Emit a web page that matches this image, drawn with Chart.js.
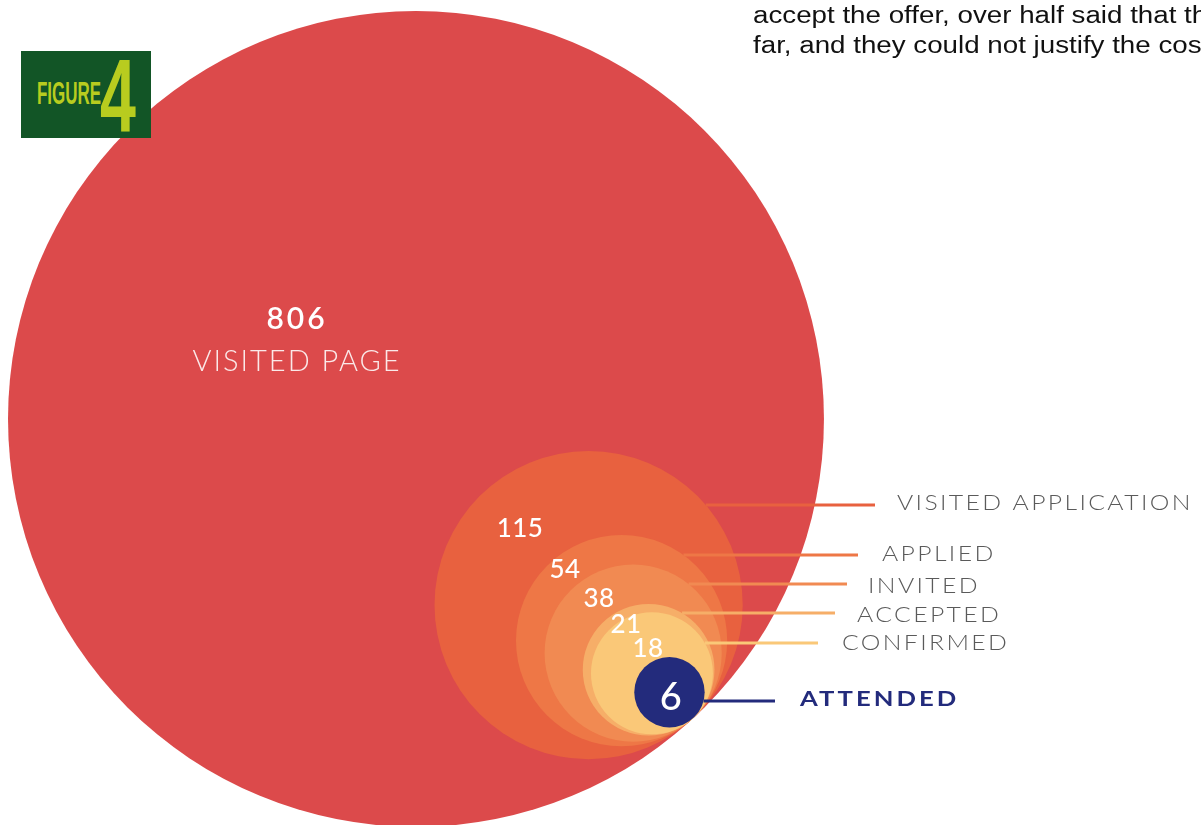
<!DOCTYPE html>
<html>
<head>
<meta charset="utf-8">
<script src="https://cdn.jsdelivr.net/npm/chart.js@4.4.1/dist/chart.umd.min.js"></script>
<style>
  html, body { margin: 0; padding: 0; background: #fff; overflow: hidden; }
  #wrap { position: relative; width: 1201px; height: 825px; overflow: hidden; }
  #bubbles { position: absolute; left: 0; top: 0; }
  .body-text {
    position: absolute; left: 753px; top: 0; white-space: nowrap;
    font-family: "Liberation Sans", Arial, sans-serif; font-size: 23.5px;
    line-height: 30px; color: #111; transform: scaleX(1.18); transform-origin: 0 0;
  }
  .badge {
    position: absolute; left: 21px; top: 51px; width: 130px; height: 87px;
    background: #125526; overflow: hidden;
  }
  .badge span {
    position: absolute; font-family: "Liberation Sans", Arial, sans-serif;
    font-weight: bold; color: #b8cc1f; transform-origin: 0 0; line-height: 1;
  }
  .badge .word { left: 16px; top: 26px; font-size: 32px; transform: scaleX(0.53); }
  .badge .num { left: 79px; top: -7px; font-size: 104px; transform: scaleX(0.62); }
</style>
</head>
<body>
<div id="wrap">
  <canvas id="bubbles" width="1201" height="825"></canvas>
  <div class="body-text">accept the offer, over half said that they<br>far, and they could not justify the cost</div>
  <div class="badge"><span class="word">FIGURE</span><span class="num">4</span></div>
</div>
<script>
// ---------------- DATA ----------------

const stages = [
    "VISITED PAGE",
    "VISITED APPLICATION",
    "APPLIED",
    "INVITED",
    "ACCEPTED",
    "CONFIRMED",
    "ATTENDED"
];

const counts = [806, 115, 54, 38, 21, 18, 6];

const colors = [
    "#dc4a4b",
    "#e8613f",
    "#ee7746",
    "#f18a52",
    "#f6ae68",
    "#fac878",
    "#232b7c"
];

// ---------------- LAYOUT ----------------

// circles are area-proportional and all touch at one point (bottom right)
const pxPerUnit = 14.37;
const touchX = 693.4, touchY = 718;
const dirX = 0.68, dirY = 0.733;

// leader lines + right hand labels (stage 1..6)
const leaderY = [null, 505, 555, 584, 613, 643, 701];
const leaderEnd = [null, 875, 858, 847, 835, 818, 775];
const labelX = [null, 897, 882, 868, 857, 842, 800];
const labelBase = [null, 510, 561, 593, 622, 650, 706];

// count labels inside the circles
const numX = [297, 520, 565, 599, 626, 648, 671];
const numBase = [329, 537, 578, 607, 633, 657, 710];

const W = 1201, H = 825;

const points = counts.map(v => ({
    x: -Math.sqrt(v) * dirX,
    y: Math.sqrt(v) * dirY
}));

function stretchedText(ctx, text, x, y, sx) {
    ctx.save();
    ctx.translate(x, y);
    ctx.scale(sx, 1);
    ctx.fillText(text, 0, 0);
    ctx.restore();
}

const labelPlugin = {
    id: "funnelLabels",
    afterDatasetsDraw(chart) {
        const ctx = chart.ctx;
        const els = chart.getDatasetMeta(0).data;
        ctx.save();

        // leader lines
        for (let i = 1; i < stages.length; i++) {
            const el = els[i];
            const r = el.options.radius;
            const dy = leaderY[i] - el.y;
            const x0 = el.x + Math.sqrt(Math.max(r * r - dy * dy, 0));
            ctx.beginPath();
            ctx.moveTo(x0, leaderY[i]);
            ctx.lineTo(leaderEnd[i], leaderY[i]);
            ctx.strokeStyle = colors[i];
            ctx.lineWidth = 3;
            ctx.stroke();
        }

        // stage names
        ctx.textAlign = "left";
        ctx.textBaseline = "alphabetic";
        for (let i = 1; i < stages.length; i++) {
            const last = i === stages.length - 1;
            ctx.font = last ? "bold 21px Lato" : "300 21px Lato";
            ctx.letterSpacing = last ? "2.5px" : "2px";
            ctx.fillStyle = last ? colors[i] : "#5a5a5a";
            stretchedText(ctx, stages[i], labelX[i], labelBase[i], last ? 1.22 : 1.18);
        }

        // counts
        ctx.textAlign = "center";
        ctx.fillStyle = "#ffffff";
        for (let i = 0; i < counts.length; i++) {
            let size = 26;
            if (i === 0) size = 30;
            if (i === counts.length - 1) size = 38;
            ctx.font = (i === 0 ? "600 " : "500 ") + size + "px Lato";
            ctx.letterSpacing = i === 0 ? "3px" : "0.5px";
            ctx.fillText(String(counts[i]), numX[i], numBase[i]);
        }

        // big circle caption
        ctx.font = "300 29px Lato";
        ctx.letterSpacing = "2px";
        ctx.fillStyle = "rgba(255,255,255,0.88)";
        ctx.fillText(stages[0], 297, 371);

        ctx.restore();
    }
};

new Chart(document.getElementById("bubbles"), {
    type: "scatter",
    data: {
        labels: stages,
        datasets: [{
            data: points,
            showLine: false,
            pointBackgroundColor: colors,
            pointBorderWidth: 0,
            pointHoverBorderWidth: 0,
            pointRadius: (c) => {
                const s = c.chart.scales.x;
                return Math.abs(s.getPixelForValue(Math.sqrt(counts[c.dataIndex])) - s.getPixelForValue(0));
            }
        }]
    },
    options: {
        responsive: false,
        animation: false,
        devicePixelRatio: 1,
        events: [],
        layout: { padding: 0 },
        plugins: {
            legend: { display: false },
            tooltip: { enabled: false }
        },
        scales: {
            x: {
                type: "linear",
                display: false,
                bounds: "data",
                min: -touchX / pxPerUnit,
                max: (W - touchX) / pxPerUnit
            },
            y: {
                type: "linear",
                display: false,
                bounds: "data",
                min: -(H - touchY) / pxPerUnit,
                max: touchY / pxPerUnit
            }
        }
    },
    plugins: [labelPlugin]
});
</script>
</body>
</html>
